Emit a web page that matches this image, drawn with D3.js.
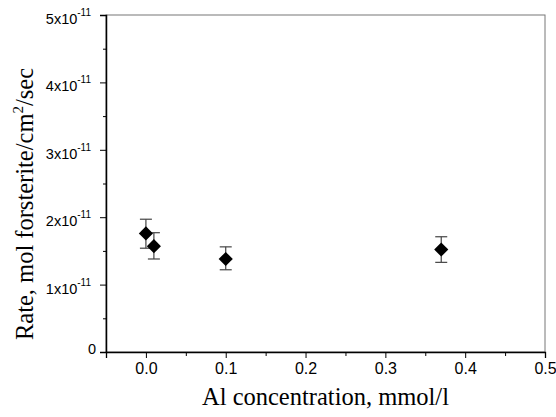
<!DOCTYPE html>
<html>
<head>
<meta charset="utf-8">
<script src="https://cdn.jsdelivr.net/npm/d3@7"></script>
<style>
  body { margin: 0; background: #fff; }
</style>
</head>
<body>
<div id="chart"></div>
<script>
// Al concentration (mmol/l) and dissolution rate (x1e-11 mol/cm2/sec)
const alConc = [0, 0.01, 0.1, 0.37]
const rate = [1.76, 1.57, 1.38, 1.52]
const rateLow = [1.54, 1.38, 1.22, 1.33]
const rateHigh = [1.97, 1.77, 1.56, 1.71]
const xTicks = [0.0, 0.1, 0.2, 0.3, 0.4, 0.5]
const yTicks = [0, 1, 2, 3, 4, 5]

const width = 556
const height = 417
const margin = { top: 15, right: 11, bottom: 65, left: 106 }

const svg = d3
  .select('#chart')
  .append('svg')
  .attr('width', width)
  .attr('height', height)

const x = d3
  .scaleLinear()
  .domain([-0.05, 0.5])
  .range([margin.left, width - margin.right])

const y = d3
  .scaleLinear()
  .domain([0, 5])
  .range([height - margin.bottom, margin.top])

const SANS = 'Arial, "Liberation Sans", sans-serif'
const SERIF = '"Times New Roman", "Liberation Serif", serif'

// frame (top/right lighter)
svg
  .append('rect')
  .attr('x', margin.left)
  .attr('y', margin.top)
  .attr('width', x.range()[1] - margin.left)
  .attr('height', y.range()[0] - margin.top)
  .attr('fill', 'none')
  .attr('stroke', '#777')
  .attr('stroke-width', 1)

// x axis
const xAxis = g =>
  g
    .attr('transform', `translate(0,${y(0)})`)
    .call(
      d3
        .axisBottom(x)
        .tickValues(xTicks)
        .tickFormat(d3.format('.1f'))
        .tickSize(6)
        .tickPadding(5)
    )
    .call(g => g.select('.domain').attr('stroke', '#000').attr('stroke-width', 1.3))
    .call(g =>
      g
        .selectAll('.tick text')
        .style('font', `16px ${SANS}`)
        .attr('fill', '#000')
    )

const xMinor = g =>
  g
    .attr('transform', `translate(0,${y(0)})`)
    .call(
      d3
        .axisBottom(x)
        .tickValues([0.05, 0.15, 0.25, 0.35, 0.45])
        .tickFormat('')
        .tickSize(4)
    )
    .call(g => g.select('.domain').remove())

// y axis
const yAxis = g =>
  g
    .attr('transform', `translate(${margin.left},0)`)
    .call(
      d3
        .axisLeft(y)
        .tickValues(yTicks)
        .tickFormat('')
        .tickSize(6)
    )
    .call(g => g.select('.domain').attr('stroke', '#000').attr('stroke-width', 1.5))

const yMinor = g =>
  g
    .attr('transform', `translate(${margin.left},0)`)
    .call(
      d3
        .axisLeft(y)
        .tickValues([0.5, 1.5, 2.5, 3.5, 4.5])
        .tickFormat('')
        .tickSize(3)
    )
    .call(g => g.select('.domain').remove())

svg.append('g').call(xMinor)
svg.append('g').call(yMinor)
svg.append('g').call(xAxis)
svg.append('g').call(yAxis)

// y tick labels with exponent
const yLabels = svg
  .append('g')
  .selectAll('text')
  .data(yTicks)
  .join('text')
  .attr('x', margin.left - 15)
  .attr('y', d => (d === 0 ? y(d) + 2 : y(d) + 9))
  .attr('text-anchor', 'end')
  .style('font', `14.5px ${SANS}`)

yLabels.each(function(d) {
  const t = d3.select(this)
  if (d === 0) {
    t.attr('x', margin.left - 10).text('0')
    return
  }
  t.append('tspan').text(`${d}x10`)
  t.append('tspan')
    .attr('dy', -8)
    .style('font-size', '10px')
    .text('-11')
})

// error bars
const cap = 6
const err = svg
  .append('g')
  .attr('stroke', '#444')
  .attr('stroke-width', 1.2)
  .selectAll('g')
  .data(alConc)
  .join('g')

err
  .append('line')
  .attr('x1', d => x(d))
  .attr('x2', d => x(d))
  .attr('y1', (d, i) => y(rateLow[i]))
  .attr('y2', (d, i) => y(rateHigh[i]))
err
  .append('line')
  .attr('x1', d => x(d) - cap)
  .attr('x2', d => x(d) + cap)
  .attr('y1', (d, i) => y(rateHigh[i]))
  .attr('y2', (d, i) => y(rateHigh[i]))
err
  .append('line')
  .attr('x1', d => x(d) - cap)
  .attr('x2', d => x(d) + cap)
  .attr('y1', (d, i) => y(rateLow[i]))
  .attr('y2', (d, i) => y(rateLow[i]))

// diamonds
svg
  .append('g')
  .selectAll('path')
  .data(alConc)
  .join('path')
  .attr('d', d3.symbol(d3.symbolSquare, 100))
  .attr('transform', (d, i) => `translate(${x(d)},${y(rate[i])}) rotate(45)`)
  .attr('fill', '#000')

// axis titles
svg
  .append('text')
  .attr('x', (margin.left + width - margin.right) / 2)
  .attr('y', 405)
  .attr('text-anchor', 'middle')
  .style('font', `24.5px ${SERIF}`)
  .text('Al concentration, mmol/l')

const yTitle = svg
  .append('text')
  .attr('transform', 'translate(33,204) rotate(-90)')
  .attr('text-anchor', 'middle')
  .style('font', `24.5px ${SERIF}`)

yTitle.append('tspan').text('Rate, mol forsterite/cm')
yTitle.append('tspan').attr('dy', -10).style('font-size', '15px').text('2')
yTitle.append('tspan').attr('dy', 10).text('/sec')
</script>
</body>
</html>
